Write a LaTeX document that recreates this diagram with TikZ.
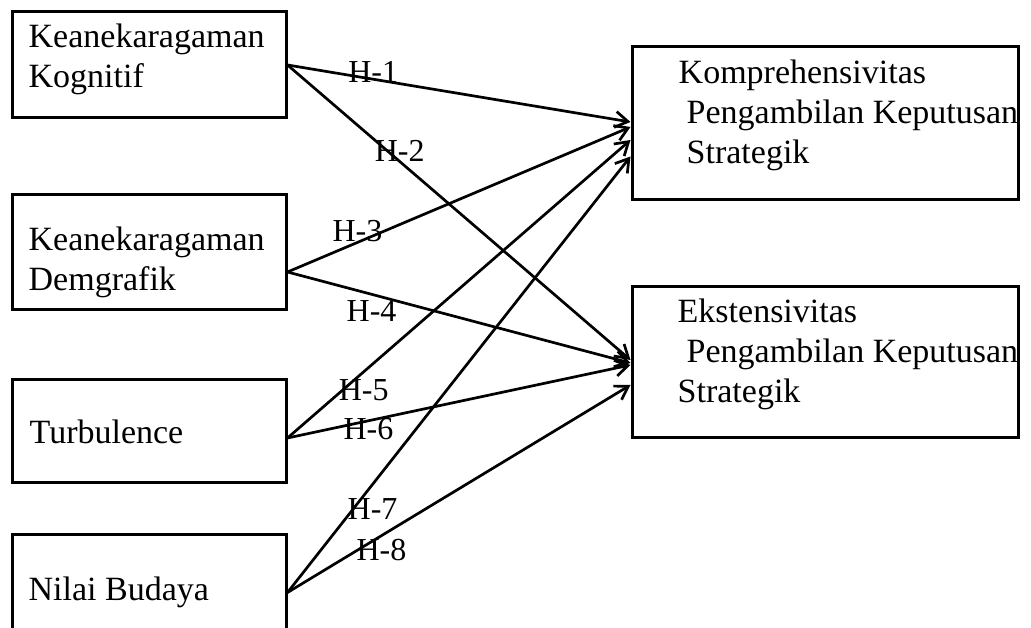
\documentclass[tikz,border=0pt]{standalone}
\usepackage{fontspec}
\setmainfont{Liberation Serif}
\usetikzlibrary{arrows.meta}

\begin{document}
\begin{tikzpicture}[x=1pt,y=1pt,>={Straight Barb[angle=64:15pt]},
    every node/.style={font=\fontsize{34}{40}\selectfont},
    varbox/.style={draw,line width=3pt,minimum width=274pt,inner sep=0pt},
    outbox/.style={draw,line width=3pt,minimum width=386pt,inner sep=0pt},
    boxtext/.style={align=left,inner sep=0pt,anchor=north west},
    hyp/.style={inner sep=0pt,font=\fontsize{32}{36}\selectfont},
    node distance=187.5pt]
  \useasboundingbox (0,0) rectangle (1031,628);

  \node[varbox,minimum height=106pt] (kog)   at (149,563)                        {};
  \node[varbox,minimum height=115pt] (dem)   [below of=kog]                      {};
  \node[varbox,minimum height=103pt] (turb)  [below of=dem,node distance=179pt]  {};
  \node[varbox,minimum height=115pt] (nilai) [below of=turb,node distance=161pt] {};
  \node[outbox,minimum height=153pt] (komp)  at (825,504.5)                      {};
  \node[outbox,minimum height=151pt] (eks)   [below of=komp,node distance=239pt] {};

  \node[boxtext] (kogtxt)   at ([xshift=18pt,yshift=-13pt]kog.north west)   {Keanekaragaman\\Kognitif};
  \node[boxtext] (demtxt)   at ([xshift=18pt,yshift=-33pt]dem.north west)   {Keanekaragaman\\Demgrafik};
  \node[boxtext] (turbtxt)  at ([xshift=19pt,yshift=-41pt]turb.north west)  {Turbulence};
  \node[boxtext] (nilaitxt) at ([xshift=18pt,yshift=-43pt]nilai.north west) {Nilai Budaya};
  \node[boxtext] (komptxt)  at ([xshift=48pt,yshift=-14pt]komp.north west)
    {Komprehensivitas\\\hspace*{8pt}Pengambilan Keputusan\\\hspace*{8pt}Strategik};
  \node[boxtext] (ekstxt)   at ([xshift=47pt,yshift=-13pt]eks.north west)
    {Ekstensivitas\\\hspace*{9pt}Pengambilan Keputusan\\Strategik};

  \path[->,line width=2.7pt]
    (kog.east)                 edge node[hyp,pos=.25,yshift=7pt]    {H-1} ([yshift=1.5pt]komp.west)
    (kog.east)                 edge node[hyp,pos=.327,yshift=11pt]  {H-2} ([yshift=2.5pt]eks.west)
    ([yshift=-19.5pt]dem.east) edge node[hyp,pos=.204,yshift=11pt]  {H-3} ([yshift=-3.5pt]komp.west)
    ([yshift=-19.5pt]dem.east) edge node[hyp,pos=.245,yshift=-17pt] {H-4} ([yshift=-0.5pt]eks.west)
    ([yshift=-6.5pt]turb.east) edge node[hyp,pos=.222,yshift=-18pt] {H-5} ([yshift=-16.5pt]komp.west)
    ([yshift=-6.5pt]turb.east) edge node[hyp,pos=.236,yshift=-8pt]  {H-6} ([yshift=-2.5pt]eks.west)
    (nilai.east)               edge node[hyp,pos=.248,yshift=-25pt] {H-7} ([yshift=-33pt]komp.west)
    (nilai.east)               edge node[hyp,pos=.274,yshift=-14pt] {H-8} ([yshift=-22.5pt]eks.west);
\end{tikzpicture}
\end{document}
